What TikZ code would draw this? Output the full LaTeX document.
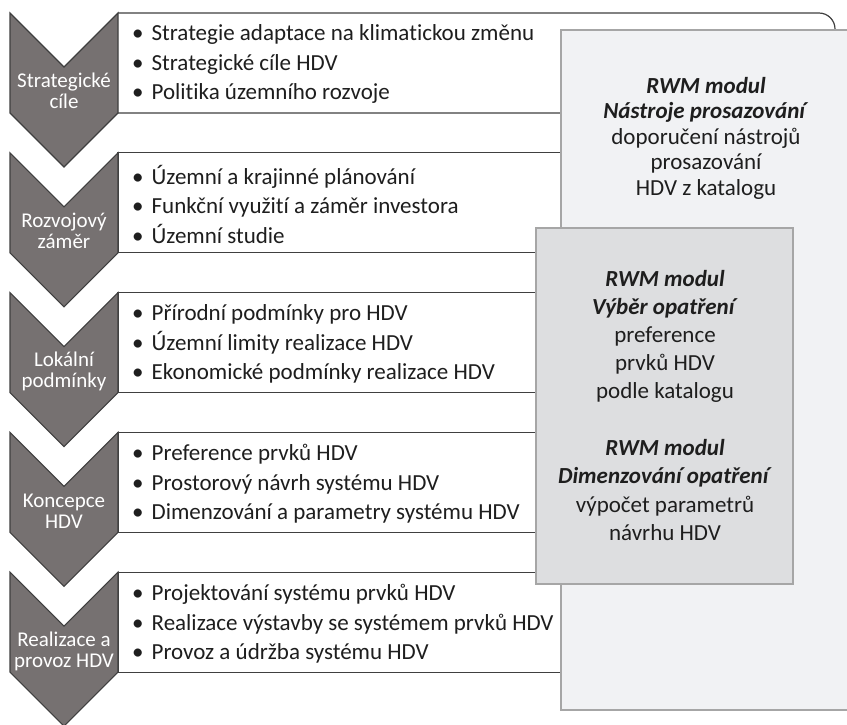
\documentclass[tikz,border=0pt]{standalone}
\usepackage{fontspec}
\setmainfont[Ligatures=NoCommon]{Carlito}
\definecolor{chevfill}{HTML}{767171}
\definecolor{chevdraw}{HTML}{3F3F3F}
\definecolor{rowdraw}{HTML}{404040}
\definecolor{txt}{HTML}{1E1E1E}
\definecolor{bigfill}{HTML}{F1F2F4}
\definecolor{midfill}{HTML}{DDDEE0}
\definecolor{modborder}{HTML}{A6A6A6}
\begin{document}
\begin{tikzpicture}[x=1pt,y=-1pt,
  chev/.style={fill=chevfill,draw=chevdraw,line width=1.1pt,line join=miter},
  rowbox/.style={draw=rowdraw,line width=1.2pt,fill=white},
  chevlabel/.style={text=white,align=center,font=\fontsize{21}{21}\selectfont,inner sep=0pt},
  items/.style={text=txt,align=left,anchor=west,font=\fontsize{23}{29.5}\selectfont,inner sep=0pt},
  modtext/.style={text=txt,align=center,inner sep=0pt},
  modbox/.style={draw=modborder,line width=2.2pt}]
\useasboundingbox (0,0) rectangle (847,724);
\fill[white] (0,0) rectangle (847,724);
% row boxes
\draw[rowbox,rounded corners=16pt] (118,13) -- (835,13) -- (835,113) -- (118,113);
\foreach \t in {152.8,292.6,432.4,572.2}{
  \draw[rowbox] (118,\t) rectangle (835,\t+100);
}
% chevrons
\foreach \t in {13,152.8,292.6,432.4,572.2}{
  \draw[chev] (10,\t) -- (64,\t+54) -- (118,\t) -- (118,\t+100) -- (64,\t+154) -- (10,\t+100) -- cycle;
}
\node[chevlabel] (c1) at (64,91) {Strategické\\cíle};
\node[chevlabel] (c2) at (64,231) {Rozvojový\\záměr};
\node[chevlabel] (c3) at (64,371) {Lokální\\podmínky};
\node[chevlabel] (c4) at (64,511) {Koncepce\\HDV};
\node[chevlabel] (c5) at (64,651) {Realizace a\\provoz HDV};
% item lists
\node[items] (i1) at (132,64) {•\hspace{8pt}Strategie adaptace na klimatickou změnu\\•\hspace{8pt}Strategické cíle HDV\\•\hspace{8pt}Politika územního rozvoje};
\node[items] (i2) at (132,204) {•\hspace{8pt}Územní a krajinné plánování\\•\hspace{8pt}Funkční využití a záměr investora\\•\hspace{8pt}Územní studie};
\node[items] (i3) at (132,344) {•\hspace{8pt}Přírodní podmínky pro HDV\\•\hspace{8pt}Územní limity realizace HDV\\•\hspace{8pt}Ekonomické podmínky realizace HDV};
\node[items] (i4) at (132,484) {•\hspace{8pt}Preference prvků HDV\\•\hspace{8pt}Prostorový návrh systému HDV\\•\hspace{8pt}Dimenzování a parametry systému HDV};
\node[items] (i5) at (132,624) {•\hspace{8pt}Projektování systému prvků HDV\\•\hspace{8pt}Realizace výstavby se systémem prvků HDV\\•\hspace{8pt}Provoz a údržba systému HDV};
% module boxes
\draw[modbox,fill=bigfill] (561,30) rectangle (849,710);
\draw[modbox,fill=midfill] (536,228) rectangle (793,584);
\node[modtext,font=\fontsize{23}{25.5}\selectfont] (m1) at (706,138) {\textbf{\textit{RWM modul}}\\\textbf{\textit{Nástroje prosazování}}\\doporučení nástrojů\\prosazování\\HDV z katalogu};
\node[modtext,font=\fontsize{23}{28}\selectfont] (m2) at (665,336) {\textbf{\textit{RWM modul}}\\\textbf{\textit{Výběr opatření}}\\preference\\prvků HDV\\podle katalogu};
\node[modtext,font=\fontsize{23}{28.5}\selectfont] (m3) at (665,490) {\textbf{\textit{RWM modul}}\\\textbf{\textit{Dimenzování opatření}}\\výpočet parametrů\\návrhu HDV};
\end{tikzpicture}
\end{document}
